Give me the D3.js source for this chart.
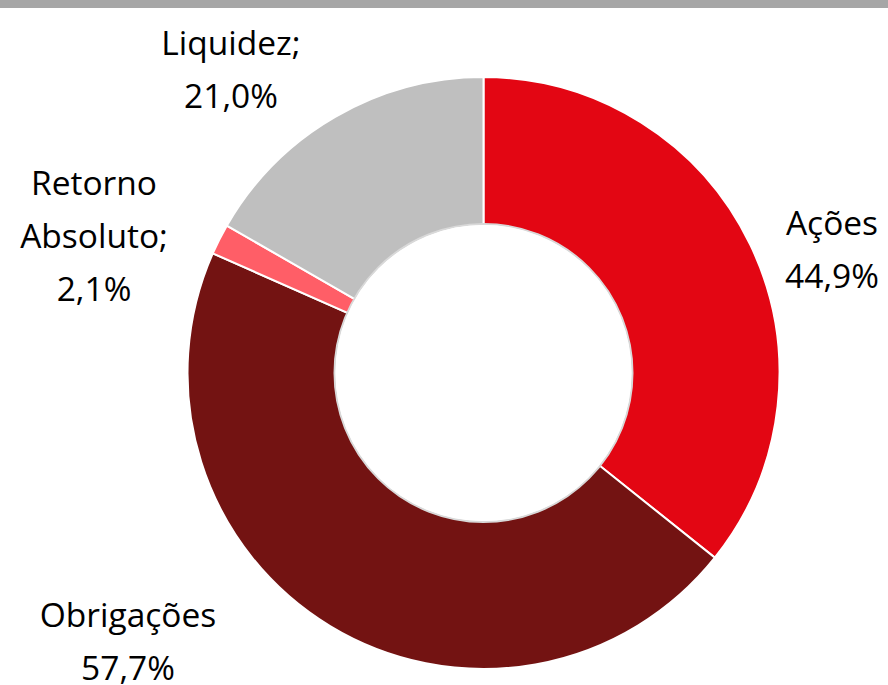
<!DOCTYPE html>
<html>
<head>
<meta charset="utf-8">
<script src="https://cdn.jsdelivr.net/npm/d3@7"></script>
<style>
  html, body { margin: 0; padding: 0; background: #fff; }
  svg { display: block; }
  text { font-family: "Open Sans", "Noto Sans", sans-serif; fill: #000; }
</style>
</head>
<body>
<svg id="chart" width="888" height="685"></svg>
<script>
// Data
const categories = ["Ações", "Obrigações", "Retorno Absoluto", "Liquidez"];
const values = [44.9, 57.7, 2.1, 21.0];
const valueLabels = ["44,9%", "57,7%", "2,1%", "21,0%"];
const labelLines = [["Ações"], ["Obrigações"], ["Retorno", "Absoluto;"], ["Liquidez;"]];
const colors = ["#E30613", "#731312", "#FF5E67", "#BFBFBF"];

// Layout
const W = 888, H = 685;
const cx = 483.5, cy = 373, rOuter = 296, rInner = 148;
const labelPos = [
  { x: 832, y: 235 },
  { x: 128, y: 627 },
  { x: 94, y: 195 },
  { x: 231, y: 55 }
];
const lineH = 53;

const svg = d3.select("#chart");

svg.append("rect").attr("x", 0).attr("y", 0).attr("width", W).attr("height", 8).attr("fill", "#A6A6A6");

const pie = d3.pie().sort(null).value(d => d.v);
const arc = d3.arc().innerRadius(rInner).outerRadius(rOuter);
const data = categories.map((c, i) => ({ c, v: values[i], i }));

const g = svg.append("g").attr("transform", `translate(${cx},${cy})`);
g.selectAll("path.slice")
  .data(pie(data))
  .join("path")
  .attr("class", "slice")
  .attr("d", arc)
  .attr("fill", d => colors[d.data.i])
  .attr("stroke", "#fff")
  .attr("stroke-width", 2);

// faint inner shadow edge
g.append("circle").attr("r", rInner + 1).attr("fill", "none").attr("stroke", "#d9d9d9").attr("stroke-width", 2);
g.append("circle").attr("r", rInner).attr("fill", "#fff");

// Labels
data.forEach((d, i) => {
  const lines = labelLines[i].concat([valueLabels[i]]);
  const t = svg.append("text")
    .attr("text-anchor", "middle")
    .attr("font-size", 33.5);
  lines.forEach((ln, k) => {
    t.append("tspan").attr("x", labelPos[i].x).attr("y", labelPos[i].y + k * lineH).text(ln);
  });
});
</script>
</body>
</html>
